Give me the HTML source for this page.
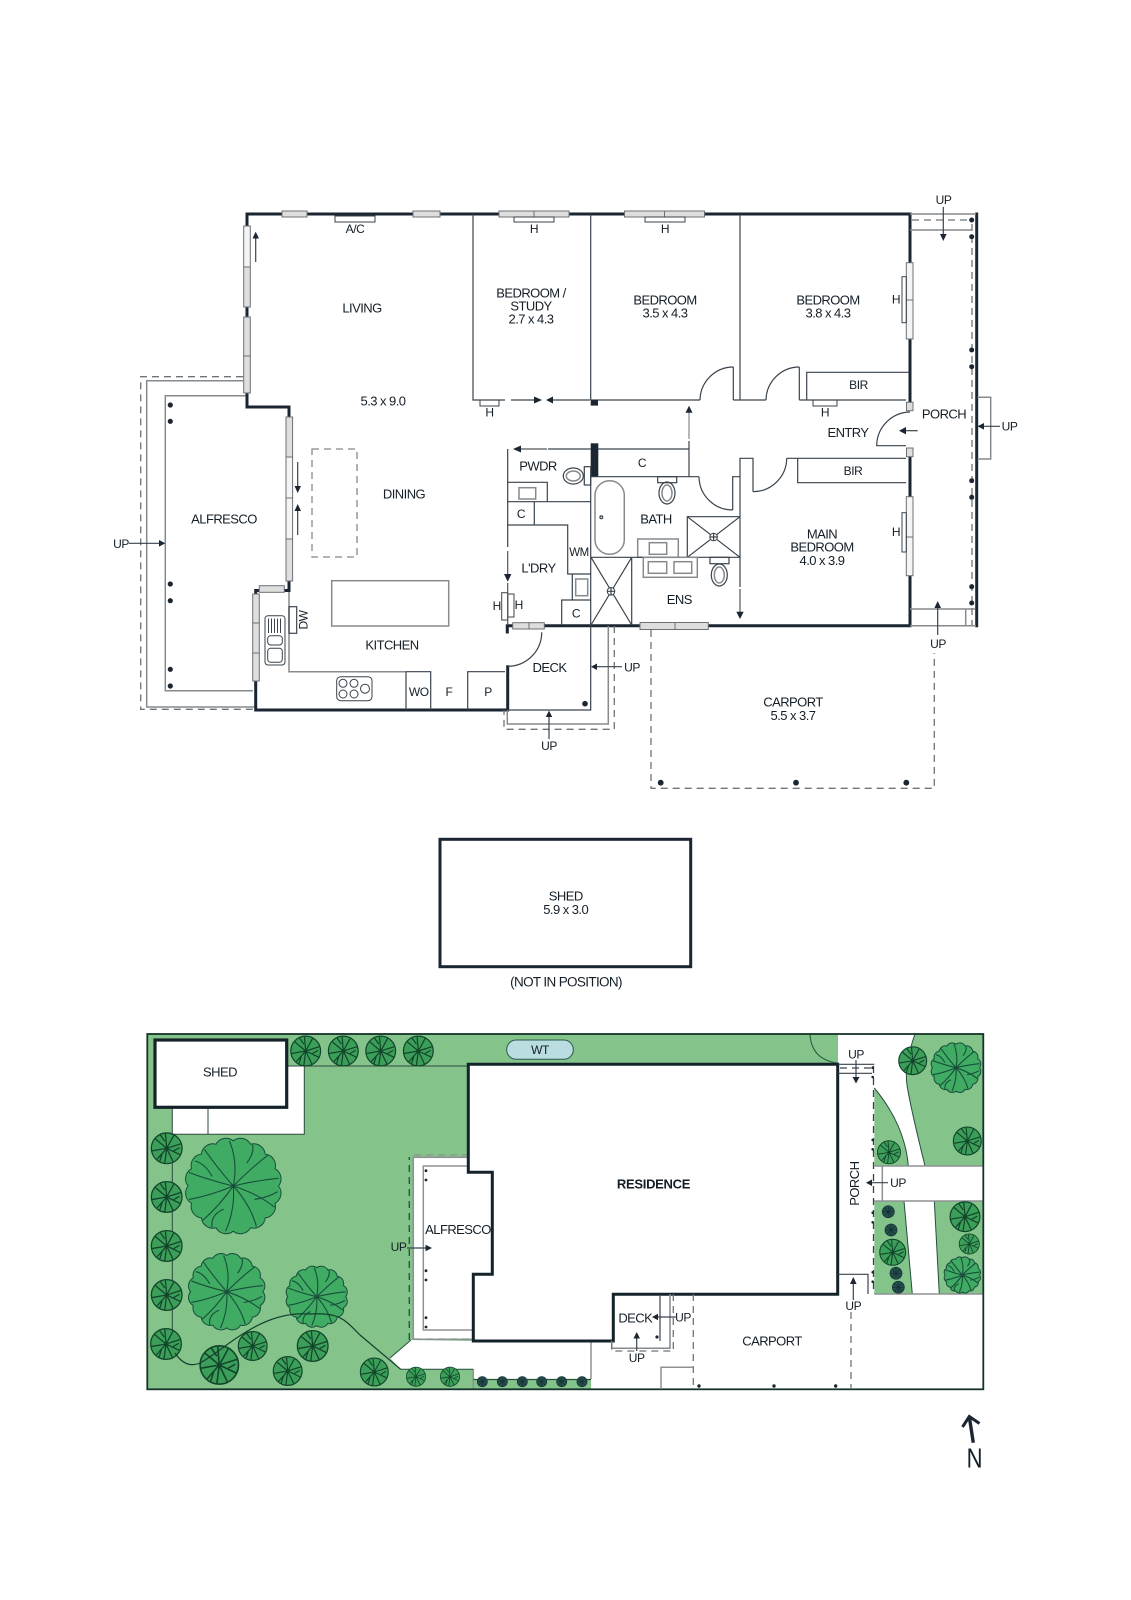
<!DOCTYPE html>
<html><head><meta charset="utf-8"><title>Floor plan</title>
<style>
html,body{margin:0;padding:0;background:#fff;width:1131px;height:1600px;overflow:hidden}
svg{display:block}
text{font-family:"Liberation Sans",sans-serif;font-size:13px;letter-spacing:-.55px;fill:#141e27;text-anchor:middle;dominant-baseline:central}
.s{font-size:12px;letter-spacing:-.45px}
.b{font-weight:bold;letter-spacing:-.3px}
.w{fill:none;stroke:#1b2632;stroke-width:3;stroke-linecap:square}
.l{fill:none;stroke:#39434d;stroke-width:1.2}
.g{fill:none;stroke:#868a8e;stroke-width:1.5}
.d{fill:none;stroke:#6f7478;stroke-width:1.3;stroke-dasharray:7 5}
.win{fill:#dedede;stroke:#6c7074;stroke-width:1}
.f{fill:#1b2632;stroke:none}
.tl{fill:none;stroke:#24503c;stroke-width:1}
.gl{fill:none;stroke:#8d9194;stroke-width:1.5}
</style></head><body>
<svg xmlns="http://www.w3.org/2000/svg" width="1131" height="1600" viewBox="0 0 1131 1600">
<defs>
<symbol id="t" viewBox="-52 -52 104 104" overflow="visible">
<path fill="#3fab63" stroke="#184f3a" stroke-width="1" vector-effect="non-scaling-stroke" d="M47 0A12 12 0 0 1 43.4 18A12 12 0 0 1 33.2 33.2A12 12 0 0 1 18 43.4A12 12 0 0 1 0 47A12 12 0 0 1 -18 43.4A12 12 0 0 1 -33.2 33.2A12 12 0 0 1 -43.4 18A12 12 0 0 1 -47 0A12 12 0 0 1 -43.4 -18A12 12 0 0 1 -33.2 -33.2A12 12 0 0 1 -18 -43.4A12 12 0 0 1 0 -47A12 12 0 0 1 18 -43.4A12 12 0 0 1 33.2 -33.2A12 12 0 0 1 43.4 -18A12 12 0 0 1 47 0Z"/>
<g fill="none" stroke="#184f3a" stroke-width="1.1">
<path vector-effect="non-scaling-stroke" d="M0 0Q5 -25 -4 -47M0 0Q20 -20 36 -32M0 0Q25 -6 47 -8M0 0Q25 8 43 22M0 0Q18 20 24 42M0 0Q2 24 -8 47M0 0Q-14 20 -32 36M0 0Q-24 10 -46 14M0 0Q-25 -6 -46 -14M0 0Q-16 -18 -30 -38M-22 -10Q-30 -24 -40 -26M14 -24Q22 -34 20 -43M22 14Q36 12 46 6M-10 24Q-24 30 -22 43"/>
</g>
<circle r="2" fill="#184f3a"/>
</symbol>
<symbol id="m" viewBox="-50 -50 100 100" overflow="visible">
<circle r="48" fill="#3c9f59" stroke="#12462b" stroke-width="4"/>
<g fill="none" stroke="#12462b" stroke-width="4">
<path d="M0 0L-4 -46M0 0L22 -40M0 0L44 -14M0 0L42 20M0 0L20 42M0 0L-6 46M0 0L-30 34M0 0L-46 8M0 0L-36 -30M-6 -22L-20 -42M22 8L40 -2M-14 16L-22 42"/>
</g>
<circle r="5" fill="#12462b"/>
</symbol>
<symbol id="k" viewBox="-50 -50 100 100" overflow="visible">
<circle r="46" fill="#265149" stroke="#14303a" stroke-width="6"/>
<g fill="none" stroke="#14303a" stroke-width="6"><path d="M-40 0H40M0 -40V40M-28 -28L28 28M-28 28L28 -28"/></g>
</symbol>
</defs>
<rect width="1131" height="1600" fill="#fff"/>

<!-- ALFRESCO -->
<path class="d" d="M243 376.7H140.7V709.3H255"/>
<path class="g" d="M243 380.7H146.7V707H255"/>
<path class="g" d="M247 395.7H165.3V690.7H253"/>
<g class="f"><circle cx="170.3" cy="405" r="2.6"/><circle cx="170.3" cy="421.3" r="2.6"/><circle cx="170.3" cy="584" r="2.6"/><circle cx="170.3" cy="600.7" r="2.6"/><circle cx="170.3" cy="669.3" r="2.6"/><circle cx="170.3" cy="686" r="2.6"/></g>
<path class="l" d="M129 543.3H160"/><path class="f" d="M165.3 543.3L159 540V546.6Z"/>
<text x="121" y="544" class="s">UP</text>
<text x="224" y="519">ALFRESCO</text>

<!-- outer walls -->
<path class="w" d="M247 393V214H910V400"/>
<path class="w" d="M247 393V407H289V416"/>
<path class="w" d="M289 581V590.5H284M255.7 597V590.5H260"/>
<path class="w" d="M255.7 680V710H507.7V666.7"/>
<path class="w" d="M507.3 632V625.7H910V456"/>
<path class="w" d="M910 400V404"/>
<path class="w" d="M976.7 214V625.7"/>
<!-- windows -->
<rect class="win" x="282" y="211" width="25" height="6"/>
<rect class="win" x="413" y="211" width="27" height="6"/>
<rect class="win" x="499" y="211" width="35" height="6"/><rect class="win" x="534" y="211" width="35" height="6"/>
<rect class="win" x="624.5" y="211" width="40" height="6"/><rect class="win" x="664.5" y="211" width="40" height="6"/>
<rect class="win" x="243.7" y="226" width="6.6" height="41" style="fill:#f4f4f4"/><rect class="win" x="243.7" y="267" width="6.6" height="40"/>
<rect class="win" x="243.7" y="317" width="6.6" height="39"/><rect class="win" x="243.7" y="356" width="6.6" height="37"/>
<rect class="win" x="286" y="417" width="6.6" height="40"/><rect class="win" x="286" y="457" width="6.6" height="41" style="fill:#f4f4f4"/><rect class="win" x="286" y="498" width="6.6" height="41" style="fill:#f4f4f4"/><rect class="win" x="286" y="539" width="6.6" height="42"/>
<rect class="win" x="252.7" y="594" width="6.6" height="29"/><rect class="win" x="252.7" y="623" width="6.6" height="30"/><rect class="win" x="252.7" y="653" width="6.6" height="28"/>
<rect class="win" x="259.3" y="585.7" width="25" height="6.6"/>
<rect class="win" x="512.7" y="622.7" width="16.3" height="6.3"/><rect class="win" x="529" y="622.7" width="15.3" height="6.3"/>
<rect class="win" x="640" y="622.5" width="35" height="7"/><rect class="win" x="675" y="622.5" width="33.3" height="7"/>
<rect class="win" x="906.3" y="262.7" width="6.7" height="37.3" style="fill:#f4f4f4"/><rect class="win" x="906.3" y="300" width="6.7" height="39" style="fill:#f4f4f4"/>
<rect class="win" x="906.3" y="496.7" width="6.7" height="40.3" style="fill:#f4f4f4"/><rect class="win" x="906.3" y="537" width="6.7" height="38.7" style="fill:#f4f4f4"/>
<rect class="win" x="906.5" y="402.3" width="6.5" height="8.4"/><rect class="win" x="906.5" y="448" width="6.5" height="8.7"/>

<!-- heaters & A/C -->
<g class="l" style="stroke-width:1">
<rect x="335" y="216" width="40" height="6"/><rect x="514" y="217" width="40" height="5"/><rect x="645" y="217" width="40" height="5"/>
<rect x="480" y="400" width="19" height="6"/><rect x="813" y="400" width="24" height="6"/>
<rect x="902" y="276.7" width="4.3" height="46"/><rect x="902" y="512.7" width="4.3" height="39.3"/>
<rect x="501.7" y="592.7" width="6" height="27.3"/><rect x="507.7" y="594" width="6.3" height="23"/>
</g>
<g>
<text class="s" x="355" y="229">A/C</text><text class="s" x="534" y="229">H</text><text class="s" x="665" y="229">H</text>
<text class="s" x="489.5" y="412.5">H</text><text class="s" x="825" y="412.5">H</text><text class="s" x="896" y="299.5">H</text><text class="s" x="896" y="532">H</text>
<text class="s" x="496.7" y="606">H</text><text class="s" x="518.7" y="605">H</text>
</g>

<!-- inner walls upper -->
<path class="l" d="M473 214V400H505M590.7 214V400M740 214V400M700 400H590.7M733.3 400V367M733.3 400H740V400H766M799.3 400V367M799.3 400H906"/>
<path class="l" d="M511 400H534M553 400H590"/>
<path class="f" d="M542 400L534 396.5V403.5Z"/><path class="f" d="M546 400L553 396.5V403.5Z"/>
<rect class="f" x="590.7" y="400" width="7.3" height="5.6"/>
<path class="l" d="M700 400A33.5 33.5 0 0 1 733.3 367M766 400A33.5 33.5 0 0 1 799.3 367"/>
<path class="l" d="M806.7 400V372.3H909"/>
<text class="s" x="858.5" y="385">BIR</text>
<path class="g" d="M689 412V439" style="stroke-width:1.2"/><path class="l" d="M689 441V449"/><path class="f" d="M689 405.7L685.5 412.7H692.5Z"/>
<!-- entry door -->
<path class="l" d="M910 412A34 34 0 0 0 876.7 445.7H906"/>
<path class="l" d="M917.7 430.7H903"/><path class="f" d="M899 430.7L906 427V434.4Z"/>
<!-- lower bedrooms -->
<path class="l" d="M786.7 458.3H906M740 587V458.3H753V491.7M797.7 458.3V482.7H906"/>
<path class="l" d="M753 491.7A33.7 33.7 0 0 0 786.7 458.3"/>
<text class="s" x="853" y="471">BIR</text>

<!-- wet area -->
<rect class="f" x="590.7" y="443.3" width="7.6" height="33.4"/>
<path class="l" d="M507.7 449V547M548 449H590.7M598 449H689V476.7M590.7 476V626M590.7 476.7H699M732.7 510V476.7H740"/>
<path class="g" d="M521 449H547M507.7 551V574M507.7 583V625" style="stroke:#555;stroke-width:1.2"/>
<path class="f" d="M513 449L521 445.5V452.5Z"/><path class="f" d="M507.7 581.7L504 574H511.4Z"/>
<path class="l" d="M699 476.7A33.7 33.7 0 0 0 732.7 510"/>
<path class="l" d="M507.7 482.3H547.3V501.7M507.7 501.7H590.7M534.3 501.7V525M507.7 525H567.7V574H590.7M572.3 574V600H590.7M561.7 625V600H573"/>
<rect class="g" x="519" y="487.7" width="16.7" height="11.3"/>
<rect class="g" x="575.7" y="579" width="12" height="16.7"/>
<rect class="l" x="584.3" y="466.7" width="6.4" height="18.3"/>
<ellipse class="l" cx="573.3" cy="476" rx="10" ry="8"/><ellipse class="g" cx="573.3" cy="476" rx="7" ry="5"/>
<text x="538" y="466">PWDR</text><text class="s" x="521" y="514">C</text><text class="s" x="579" y="553" style="font-size:11.5px">WM</text>
<text class="s" x="576" y="613.3">C</text><text x="538.5" y="568">L'DRY</text><text class="s" x="642" y="463">C</text>
<!-- bath -->
<rect class="g" x="595" y="480.7" width="29.3" height="73.6" rx="14.6"/><circle class="l" cx="601.3" cy="517.3" r="1.4"/>
<rect class="l" x="657.7" y="476.7" width="19" height="6"/><ellipse class="l" cx="667" cy="493" rx="8" ry="11"/><ellipse class="g" cx="667" cy="493" rx="5" ry="8"/>
<text x="656" y="519">BATH</text>
<rect class="g" x="637.7" y="539" width="40.6" height="18.3"/><rect class="g" x="649.3" y="542.7" width="17.4" height="11.6"/>
<path class="l" d="M590.7 557.3H740M687.3 557.3V516.7H740M687.3 516.7L740 557.3M740 516.7L687.3 557.3"/>
<circle cx="713.6" cy="537" r="3.8" fill="#fff" stroke="#39434d"/><path class="l" d="M709.8 537h7.6M713.6 533.2v7.6"/>
<rect class="g" x="643.3" y="557.3" width="54" height="20"/><rect class="g" x="648.3" y="561.7" width="18.4" height="11.6"/><rect class="g" x="674" y="561.7" width="17.7" height="11.6"/>
<rect class="l" x="710" y="557.3" width="19" height="6.4"/><ellipse class="l" cx="719.3" cy="575" rx="8" ry="11"/><ellipse class="g" cx="719.3" cy="575" rx="5" ry="8"/>
<path class="l" d="M631.7 557.3V625M591 625L631.7 557.3M591 557.3L631.7 625"/>
<circle cx="611" cy="591.3" r="3.8" fill="#fff" stroke="#39434d"/><path class="l" d="M607.2 591.3h7.6M611 587.5v7.6"/>
<text x="679.3" y="599.5">ENS</text>
<path class="g" d="M740 589V612" style="stroke:#555;stroke-width:1.2"/><path class="f" d="M740 619L736.3 611.7H743.7Z"/>

<!-- living dining -->
<path class="l" d="M255.7 262V238"/><path class="f" d="M255.7 231.7L252.5 238.5H259Z"/>
<path class="l" d="M297.7 462V487M297.7 535V510"/><path class="f" d="M297.7 493L294.5 486H301Z"/><path class="f" d="M297.7 504L294.5 511H301Z"/>
<rect class="d" x="312" y="449" width="45" height="108" style="stroke:#85898d"/>
<text x="362" y="308">LIVING</text><text x="383" y="401">5.3 x 9.0</text><text x="404" y="494">DINING</text>
<text x="531" y="293">BEDROOM /</text><text x="531" y="306">STUDY</text><text x="531" y="319">2.7 x 4.3</text>
<text x="665" y="300">BEDROOM</text><text x="665" y="313">3.5 x 4.3</text>
<text x="828" y="300">BEDROOM</text><text x="828" y="313">3.8 x 4.3</text>
<text x="822" y="534">MAIN</text><text x="822" y="547">BEDROOM</text><text x="822" y="560.5">4.0 x 3.9</text>
<text x="848" y="432.5">ENTRY</text><text x="944" y="414">PORCH</text>

<!-- kitchen -->
<rect class="g" x="331.7" y="580.7" width="117" height="45.3"/>
<path class="g" d="M289 592V671.7H406"/>
<path class="l" d="M406 671.7V710M406 671.7H430.7V710M467.7 710V671.7H505"/>
<rect class="l" x="289" y="606.7" width="7.7" height="26.6"/>
<text class="s" transform="translate(303.5 620) rotate(-90)" x="0" y="0">DW</text>
<g class="l" style="stroke-width:1">
<rect x="265" y="615.7" width="20" height="49.3" rx="3"/><rect x="267.7" y="635.7" width="14.6" height="9.3" rx="3"/><rect x="267.7" y="648.3" width="14.6" height="14" rx="3"/>
<path d="M268.5 618.5V633M271.5 618.5V633M274.5 618.5V633M277.5 618.5V633M280.5 618.5V633"/>
<rect x="336.7" y="676.7" width="35.3" height="24" rx="4"/>
<circle cx="343" cy="683.3" r="4"/><circle cx="354" cy="683.3" r="4"/><circle cx="343" cy="694" r="4"/><circle cx="354" cy="694" r="4"/><circle cx="365" cy="688.7" r="4.5"/>
</g>
<text x="392" y="645">KITCHEN</text><text class="s" x="418.7" y="692">WO</text><text class="s" x="449" y="692">F</text><text class="s" x="488" y="692">P</text>

<!-- deck -->
<path class="l" d="M541.7 632.3A34 34 0 0 1 507.7 666.3"/>
<path class="l" d="M590.7 626V710H507.7"/>
<path class="g" d="M608.3 626V724H507.3V710"/>
<path class="d" d="M614.3 626V729.3H504V710"/>
<circle class="f" cx="585" cy="703.7" r="2.8"/>
<text x="549.5" y="667.5">DECK</text>
<path class="l" d="M622 666.7H596"/><path class="f" d="M591 666.7L597 663.5V670Z"/><text class="s" x="632" y="667.5">UP</text>
<path class="l" d="M549 739V716"/><path class="f" d="M549 710.5L545.8 717H552.2Z"/><text class="s" x="549" y="746">UP</text>

<!-- carport -->
<path class="d" d="M651 630V788.3H934.3V653"/>
<g class="f"><circle cx="660.7" cy="782.7" r="2.9"/><circle cx="796" cy="782.7" r="2.9"/><circle cx="906.3" cy="782.7" r="2.9"/></g>
<text x="793" y="702">CARPORT</text><text x="793" y="715.5">5.5 x 3.7</text>

<!-- porch -->
<path class="g" d="M910 214H976M910 230H972M910 609H975M910 625.7H976M965.7 609V625.7"/>
<path class="d" d="M912 220H970M972 224V625"/>
<g class="f"><circle cx="971.7" cy="220" r="2.5"/><circle cx="971.7" cy="236.7" r="2.5"/><circle cx="971.7" cy="350" r="2.5"/><circle cx="971.7" cy="366.7" r="2.5"/><circle cx="971.7" cy="480.7" r="2.5"/><circle cx="971.7" cy="497.3" r="2.5"/><circle cx="971.7" cy="586.7" r="2.5"/><circle cx="971.7" cy="603" r="2.5"/></g>
<path class="g" d="M977.5 397.3H990.7V459H977.5"/>
<path class="l" d="M943.3 207V235"/><path class="f" d="M943.3 241L940 234H946.6Z"/><text class="s" x="943.5" y="200">UP</text>
<path class="l" d="M1000 426.3H983"/><path class="f" d="M977.5 426.3L984 423V429.6Z"/><text class="s" x="1009.5" y="426.5">UP</text>
<path class="l" d="M937.7 635V607"/><path class="f" d="M937.7 601L934.4 608H941Z"/><text class="s" x="938" y="644">UP</text>

<!-- SHED -->
<rect x="440" y="839.3" width="250.7" height="127.4" fill="#fff" stroke="#1b2632" stroke-width="3"/>
<text x="565.7" y="896">SHED</text><text x="565.7" y="909.5">5.9 x 3.0</text>
<text x="566" y="982" style="letter-spacing:-.65px;font-size:13.5px">(NOT IN POSITION)</text>

<!-- SITE PLAN -->
<rect x="147.3" y="1034" width="836" height="355.3" fill="#84c38a"/>
<!-- front white -->
<path fill="#fff" d="M838 1034H983.3V1389.3H838Z"/>
<path fill="#84c38a" d="M915 1034Q904 1065 907 1085Q910 1105 925 1166H983.3V1034Z"/>
<path fill="#84c38a" d="M874.3 1088Q905 1125 908.3 1166H874.3Z"/>
<path fill="#84c38a" d="M874.3 1201H904L912.3 1294H874.3Z"/>
<path fill="#84c38a" d="M934.3 1201H983.3V1294H939.3Z"/>
<path class="tl" d="M915 1034Q904 1065 907 1085Q910 1105 925 1166M874.3 1088Q905 1125 908.3 1166M904 1201L912.3 1294M934.3 1201L939.3 1294"/>
<path class="gl" d="M874.3 1166H983.3M874.3 1201H983.3M874.3 1294H983.3M882.3 1166V1201"/>
<!-- lower white -->
<path fill="#fff" d="M411 1340L390 1358L400.7 1369.3H473.3V1389.3H838V1294H613.3V1341H473.3Z"/>
<path fill="#84c38a" d="M473.3 1379H591V1389.3H473.3Z"/>
<path class="gl" d="M591 1341V1379M473.3 1369.3V1389"/>
<path d="M473.3 1379.5H591" fill="none" stroke="#24503c" stroke-width="1.3"/>
<path class="tl" d="M400.7 1369.3H473.3M411 1340L390 1358"/>
<!-- shed-yard -->
<rect x="172.3" y="1066" width="132" height="68.3" fill="#fff"/>
<path class="tl" d="M286 1066H468M304.3 1066V1134.3H172.3M172.3 1107V1346.7M208 1107V1134.3" style="stroke:#2f4a40"/>
<rect x="155" y="1040" width="131.7" height="67.3" fill="#fff" stroke="#14232a" stroke-width="3.2"/>
<text x="220" y="1072">SHED</text>
<!-- alfresco -->
<rect x="413.3" y="1157.3" width="82" height="182" fill="#fff" stroke="#8d9194" stroke-width="1.5"/>
<path class="gl" d="M470 1166H423.3V1330H475"/>
<path class="d" d="M409.3 1340V1157" style="stroke:#2f4a40"/>
<path class="d" d="M414 1155H468M414 1339H473" style="stroke:#8d9194"/>
<!-- house -->
<path fill="#fff" stroke="#14232a" stroke-width="3" d="M468.3 1064.3H837.7V1294.3H613.3V1341H473.3V1274.3H492.3V1172.3H468.3Z"/>
<g class="f"><circle cx="426" cy="1170.7" r="1.4"/><circle cx="426" cy="1180" r="1.4"/><circle cx="426" cy="1270.7" r="1.4"/><circle cx="426" cy="1280" r="1.4"/><circle cx="426" cy="1317.7" r="1.4"/><circle cx="426" cy="1327" r="1.4"/></g>
<text x="458" y="1229.5">ALFRESCO</text>
<text x="398.5" y="1247" class="s">UP</text><path class="l" d="M407 1248H426"/><path class="f" d="M432 1248L425.5 1244.8V1251.2Z"/>
<text x="653.5" y="1184" class="b">RESIDENCE</text>
<rect x="506.7" y="1040" width="66.6" height="19.3" rx="9.6" fill="#b9dde0" stroke="#2a5b50"/>
<text class="s" x="540" y="1050">WT</text>
<!-- border -->
<rect x="147.3" y="1034" width="836" height="355.3" fill="none" stroke="#14332a" stroke-width="1.8"/>
<path d="M810 1035Q812 1060 838 1063" class="tl"/>
<!-- porch site -->
<path class="l" d="M838 1064.3H874.3M838 1073.3H872M838 1274.3H868V1294"/>
<path class="d" d="M840 1068H872M873.5 1066V1294" style="stroke:#39434d"/>
<g class="f"><circle cx="872.7" cy="1067.7" r="1.3"/><circle cx="872.7" cy="1077" r="1.3"/><circle cx="872.7" cy="1140" r="1.3"/><circle cx="872.7" cy="1149.3" r="1.3"/><circle cx="872.7" cy="1212.7" r="1.3"/><circle cx="872.7" cy="1222.3" r="1.3"/><circle cx="872.7" cy="1272.3" r="1.3"/><circle cx="872.7" cy="1281.7" r="1.3"/></g>
<text class="s" x="856" y="1054.5">UP</text><path class="l" d="M856 1060V1078"/><path class="f" d="M856 1083.5L852.5 1077H859.5Z"/>
<text transform="translate(854.5 1183.7) rotate(-90)" x="0" y="0">PORCH</text>
<text class="s" x="898" y="1183">UP</text><path class="l" d="M888 1182.7H870"/><path class="f" d="M866 1182.7L872 1179.5V1186Z"/>
<path class="l" d="M853.3 1300V1283"/><path class="f" d="M853.3 1277L850 1284H856.6Z"/><text class="s" x="853.3" y="1306">UP</text>
<path class="d" d="M851 1312V1389M693.3 1294V1389"/>
<g class="f"><circle cx="699" cy="1386" r="1.7"/><circle cx="774" cy="1386" r="1.7"/><circle cx="835.7" cy="1386" r="1.7"/></g>
<text x="772" y="1341">CARPORT</text>
<path class="l" d="M660 1294V1341"/><path class="g" d="M670 1294V1348.3H611.7V1341"/><path class="d" d="M673.3 1294V1351H611.7V1342"/>
<circle class="f" cx="657" cy="1337" r="1.6"/>
<text x="635.3" y="1318">DECK</text>
<text class="s" x="683" y="1317.5">UP</text><path class="l" d="M677 1317H657"/><path class="f" d="M652 1317L658 1313.8V1320.2Z"/>
<text class="s" x="636.7" y="1358">UP</text><path class="l" d="M636.7 1351V1338"/><path class="f" d="M636.7 1332L633.5 1338.5H640Z"/>
<path class="gl" d="M661 1389V1367.3H693.3"/>

<!-- trees -->
<use href="#m" x="290.2" y="1035.5" width="31" height="31"/><use href="#m" x="327.8" y="1035.5" width="31" height="31"/><use href="#m" x="365.2" y="1035.5" width="31" height="31"/><use href="#m" x="402.8" y="1035.5" width="31" height="31"/>
<use href="#m" x="150.7" y="1132.3" width="32" height="32"/><use href="#m" x="150.7" y="1181" width="32" height="32"/><use href="#m" x="150.7" y="1230" width="32" height="32"/><use href="#m" x="150.7" y="1279" width="32" height="32"/><use href="#m" x="150" y="1328" width="32" height="32"/>
<use href="#t" x="183.3" y="1136" width="100" height="100"/>
<use href="#t" x="186.7" y="1251.7" width="80" height="80"/>
<use href="#t" x="284.7" y="1264.7" width="64" height="64"/>
<use href="#m" x="199.3" y="1345" width="40" height="40"/>
<use href="#m" x="237.7" y="1331" width="30" height="30"/>
<use href="#m" x="296.7" y="1330" width="32" height="32"/>
<use href="#m" x="272.7" y="1356" width="30" height="30"/>
<use href="#m" x="359.8" y="1357.5" width="29" height="29"/>
<use href="#m" x="406" y="1366.7" width="20" height="20"/>
<use href="#m" x="440" y="1366.7" width="20" height="20"/>
<use href="#k" x="476.8" y="1376.2" width="11" height="11"/><use href="#k" x="496.8" y="1376.2" width="11" height="11"/><use href="#k" x="516.8" y="1376.2" width="11" height="11"/><use href="#k" x="536.2" y="1376.2" width="11" height="11"/><use href="#k" x="556.2" y="1376.2" width="11" height="11"/><use href="#k" x="576.5" y="1376.2" width="11" height="11"/>
<use href="#m" x="898.2" y="1046.2" width="29" height="29"/>
<use href="#t" x="930" y="1041.7" width="52" height="52"/>
<use href="#m" x="952.8" y="1126.5" width="29" height="29"/>
<use href="#m" x="877" y="1140.3" width="24" height="24"/>
<use href="#k" x="881.8" y="1205.2" width="13" height="13"/><use href="#k" x="884.5" y="1223.5" width="13" height="13"/>
<use href="#m" x="879.2" y="1238.8" width="27" height="27"/>
<use href="#k" x="889.5" y="1266.8" width="13" height="13"/><use href="#k" x="891.8" y="1280.8" width="13" height="13"/>
<use href="#m" x="949.5" y="1201.2" width="31" height="31"/>
<use href="#m" x="958.8" y="1233.5" width="21" height="21"/>
<use href="#t" x="943.3" y="1256" width="38" height="38"/>
<path class="tl" d="M175 1353C185 1368 195 1365 200 1363C225 1350 260 1310 310 1314C340 1312 345 1320 360 1335L400.7 1369.3" style="stroke:#17402c;stroke-width:1.2"/>

<!-- north -->
<path d="M973.3 1442.7L969.5 1418" fill="none" stroke="#1b2632" stroke-width="3.4"/>
<path d="M962.5 1427L969.3 1416.5L979.5 1423.5" fill="none" stroke="#1b2632" stroke-width="3"/>
<text transform="translate(974.5 1458.5) scale(.8 1)" x="0" y="0" style="font-size:27.5px;letter-spacing:0">N</text>
</svg>
</body></html>
